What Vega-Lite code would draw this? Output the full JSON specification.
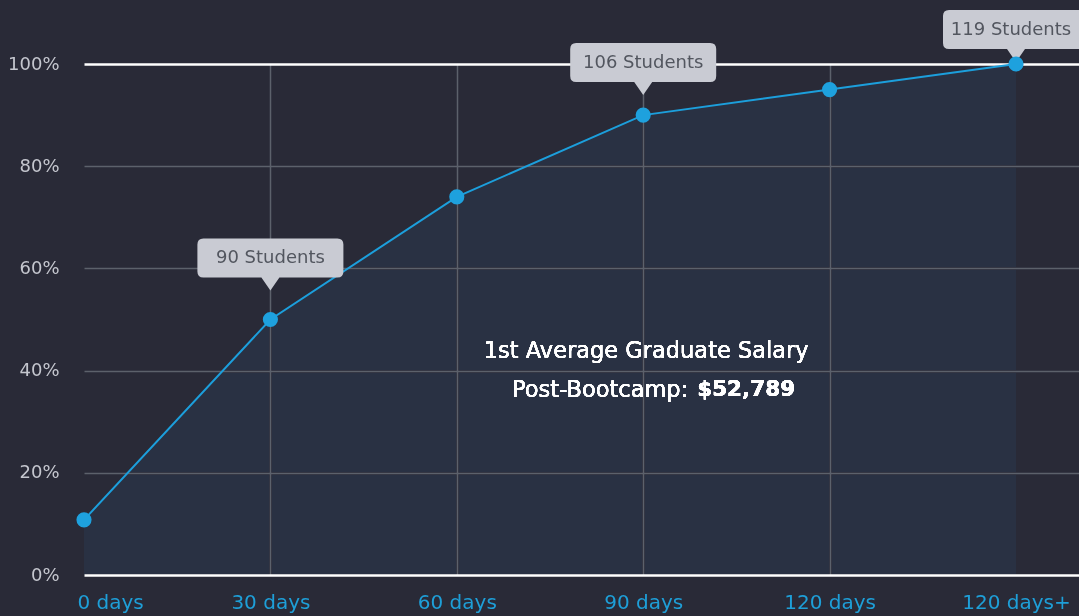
{
  "$schema": "https://vega.github.io/schema/vega-lite/v6.json",
  "width": 995,
  "height": 511,
  "autosize": {"type": "none"},
  "padding": {"left": 84, "top": 64, "right": 0, "bottom": 41},
  "background": "#292a37",
  "config": {"view": {"stroke": null}, "font": "DejaVu Sans"},
  "data": {
    "values": [
      {"period": "0 days", "share": 0.108, "note": null},
      {"period": "30 days", "share": 0.50, "note": "90 Students"},
      {"period": "60 days", "share": 0.74, "note": null},
      {"period": "90 days", "share": 0.90, "note": "106 Students"},
      {"period": "120 days", "share": 0.95, "note": null},
      {"period": "120 days+", "share": 1.0, "note": "119 Students"}
    ]
  },
  "encoding": {
    "x": {
      "field": "period",
      "type": "ordinal",
      "sort": null,
      "scale": {"type": "point", "padding": 0.169, "align": 0},
      "axis": {
        "title": null,
        "domain": false,
        "ticks": false,
        "labelAngle": 0,
        "labelColor": "#1e9fd8",
        "labelFontSize": 20,
        "labelPadding": 17,
        "grid": true,
        "gridColor": "#5c616b",
        "gridWidth": 1.5,
        "gridOpacity": {"condition": {"test": "datum.value === '0 days' || datum.value === '120 days+'", "value": 0}, "value": 1},
        "labelAlign": {"condition": {"test": "datum.value === '0 days'", "value": "left"}, "value": "center"},
        "labelOffset": {"condition": {"test": "datum.value === '0 days'", "value": -7}, "value": 0}
      }
    },
    "y": {
      "field": "share",
      "type": "quantitative",
      "scale": {"domain": [0, 1]},
      "axis": {
        "title": null,
        "domain": false,
        "ticks": false,
        "values": [0, 0.2, 0.4, 0.6, 0.8, 1],
        "format": "%",
        "labelColor": "#c4c6ce",
        "labelFontSize": 18,
        "labelPadding": 25,
        "gridColor": {"condition": {"test": "datum.value === 0 || datum.value === 1", "value": "#ffffff"}, "value": "#5c616b"},
        "gridWidth": {"condition": {"test": "datum.value === 0 || datum.value === 1", "value": 2.5}, "value": 1.5}
      }
    }
  },
  "layer": [
    {"mark": {"type": "area", "color": "#263143", "opacity": 1, "blend": "lighten"}},
    {"mark": {"type": "line", "color": "#1c9fdc", "strokeWidth": 2}},
    {
      "transform": [{"filter": "datum.note === '90 Students'"}],
      "layer": [
        {"mark": {"type": "point", "shape": "M0,0 L-0.09,-0.13 L-0.67,-0.13 Q-0.73,-0.13 -0.73,-0.19 L-0.73,-0.46 Q-0.73,-0.52 -0.67,-0.52 L0.67,-0.52 Q0.73,-0.52 0.73,-0.46 L0.73,-0.19 Q0.73,-0.13 0.67,-0.13 L0.09,-0.13 Z", "size": 40000, "filled": true, "color": "#c9cbd3", "opacity": 1, "strokeWidth": 0, "yOffset": -29}},
        {"mark": {"type": "text", "color": "#52565f", "fontSize": 18, "dy": -61.5}, "encoding": {"text": {"field": "note"}}}
      ]
    },
    {
      "transform": [{"filter": "datum.note === '106 Students'"}],
      "layer": [
        {"mark": {"type": "point", "shape": "M0,0 L-0.09,-0.13 L-0.67,-0.13 Q-0.73,-0.13 -0.73,-0.19 L-0.73,-0.46 Q-0.73,-0.52 -0.67,-0.52 L0.67,-0.52 Q0.73,-0.52 0.73,-0.46 L0.73,-0.19 Q0.73,-0.13 0.67,-0.13 L0.09,-0.13 Z", "size": 40000, "filled": true, "color": "#c9cbd3", "opacity": 1, "strokeWidth": 0, "yOffset": -20}},
        {"mark": {"type": "text", "color": "#52565f", "fontSize": 18, "dy": -52.5}, "encoding": {"text": {"field": "note"}}}
      ]
    },
    {
      "transform": [{"filter": "datum.note === '119 Students'"}],
      "layer": [
        {"mark": {"type": "point", "shape": "M0,0 L-0.09,-0.13 L-0.67,-0.13 Q-0.73,-0.13 -0.73,-0.19 L-0.73,-0.46 Q-0.73,-0.52 -0.67,-0.52 L0.67,-0.52 Q0.73,-0.52 0.73,-0.46 L0.73,-0.19 Q0.73,-0.13 0.67,-0.13 L0.09,-0.13 Z", "size": 40000, "filled": true, "color": "#c9cbd3", "opacity": 1, "strokeWidth": 0, "yOffset": -2}},
        {"mark": {"type": "text", "color": "#52565f", "fontSize": 18, "dy": -34.5, "dx": -5}, "encoding": {"text": {"field": "note"}}}
      ]
    },
    {"mark": {"type": "circle", "color": "#1ea1de", "size": 230, "opacity": 1}},
    {
      "mark": {"type": "text", "text": "1st Average Graduate Salary", "color": "#ffffff", "fontSize": 22.5, "dx": 3},
      "encoding": {"x": {"datum": "90 days"}, "y": {"datum": 0.438}}
    },
    {
      "mark": {"type": "text", "text": "Post-Bootcamp:", "color": "#ffffff", "fontSize": 22.5, "align": "right", "dx": 45},
      "encoding": {"x": {"datum": "90 days"}, "y": {"datum": 0.362}}
    },
    {
      "mark": {"type": "text", "text": "$52,789", "color": "#ffffff", "fontSize": 21.5, "fontWeight": "bold", "align": "left", "dx": 54},
      "encoding": {"x": {"datum": "90 days"}, "y": {"datum": 0.362}}
    }
  ]
}
